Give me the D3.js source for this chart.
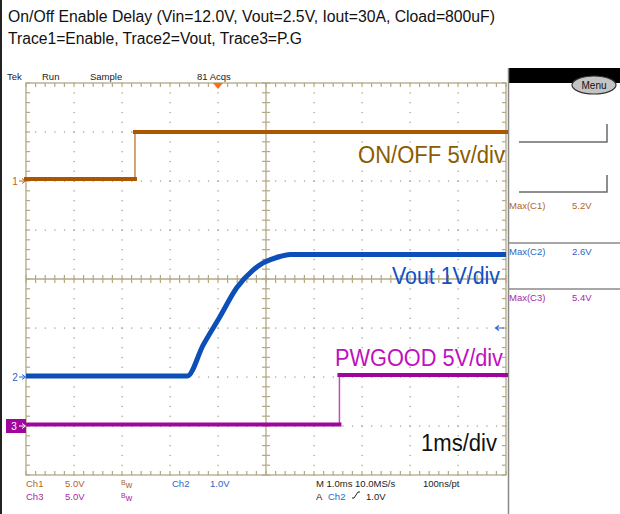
<!DOCTYPE html>
<html><head><meta charset="utf-8">
<script src="https://cdn.jsdelivr.net/npm/d3@7"></script>
<style>html,body{margin:0;padding:0;background:#fff;overflow:hidden}svg{display:block}</style>
</head><body>
<script>
// ---- data (time in ms across the 10-division screen, volts) ----
const ch1Time = [0, 2.27, 2.27, 10];
const ch1Volt = [0.2, 0.2, 5.0, 5.0];
const ch2Time = [0, 3.36, 3.69, 4.04, 4.39, 4.73, 4.94, 5.08, 5.29, 5.5, 10];
const ch2Volt = [0.02, 0.02, 0.65, 1.23, 1.82, 2.18, 2.33, 2.39, 2.46, 2.5, 2.5];
const ch3Time = [0, 6.53, 6.53, 10];
const ch3Volt = [0.15, 0.15, 5.2, 5.2];
const voltsPerDiv = [5, 1, 5];
const offsetDiv = [2, -2, -3];
const traceLabels = ["ON/OFF 5v/div", "Vout 1V/div", "PWGOOD 5V/div"];
const timebaseLabel = "1ms/div";
const titleLines = ["On/Off Enable Delay (Vin=12.0V, Vout=2.5V, Iout=30A, Cload=800uF)",
                    "Trace1=Enable, Trace2=Vout, Trace3=P.G"];
const statusItems = ["Tek", "Run", "Sample", "81 Acqs"];
const measNames = ["Max(C1)", "Max(C2)", "Max(C3)"];
const measValues = ["5.2V", "2.6V", "5.4V"];
const triggerTimeMs = 4.0;
const triggerLevelV = 1.0;

const W = 620, H = 514;
const svg = d3.select("body").append("svg").attr("width", W).attr("height", H);
const x = d3.scaleLinear().domain([0, 10]).range([26, 506]);
const yDiv = d3.scaleLinear().domain([-4, 4]).range([475, 83]);
const chY = (c, v) => yDiv(v / voltsPerDiv[c] + offsetDiv[c]);
const traceCol = ["#ac5602", "#0d4fb8", "#a0069e"];
const labelCol = ["#8a5c00", "#1050c8", "#c010c0"];
const txtCol = ["#b0661e", "#2a66c8", "#a828a8"];
const gridCol = "#b3a886";
const F = "'Liberation Sans', Arial, sans-serif";

// left frame line
svg.append("rect").attr("x", 0).attr("y", 0).attr("width", 2).attr("height", H).attr("fill", "#222");

// title
titleLines.forEach((t, i) => {
  svg.append("text").attr("x", 8).attr("y", 22 + i * 22).attr("font-family", F)
    .attr("font-size", 16).attr("fill", "#111").attr("textLength", i === 0 ? 487 : 294)
    .attr("lengthAdjust", "spacingAndGlyphs").text(t);
});

// status bar
const statusX = [7, 42, 90, 197];
statusItems.forEach((s, i) => svg.append("text").attr("x", statusX[i]).attr("y", 80)
  .attr("font-family", F).attr("font-size", 9.5).attr("fill", "#222").text(s));

// right panel
svg.append("rect").attr("x", 508).attr("y", 68).attr("width", 112).attr("height", 15).attr("fill", "#000");
svg.append("line").attr("x1", 508.5).attr("x2", 508.5).attr("y1", 68).attr("y2", H).attr("stroke", "#888").attr("stroke-width", 1.5);
svg.append("ellipse").attr("cx", 594).attr("cy", 85).attr("rx", 22).attr("ry", 9)
  .attr("fill", "#c4c4c4").attr("stroke", "#333").attr("stroke-width", 1.2);
svg.append("text").attr("x", 594).attr("y", 89).attr("text-anchor", "middle").attr("font-family", F)
  .attr("font-size", 10).attr("fill", "#111").text("Menu");
[[142, 124], [192, 175]].forEach(([yb, yt]) => svg.append("path")
  .attr("d", `M519,${yb}H607V${yt}`).attr("fill", "none").attr("stroke", "#6a6a6a").attr("stroke-width", 1.5));
[243, 289].forEach(yy => svg.append("line").attr("x1", 509).attr("x2", 620).attr("y1", yy).attr("y2", yy)
  .attr("stroke", "#8a8a8a").attr("stroke-width", 1.5));
const measY = [209, 255, 301];
measNames.forEach((m, i) => {
  svg.append("text").attr("x", 509).attr("y", measY[i]).attr("font-family", F).attr("font-size", 9.5)
    .attr("fill", txtCol[i]).text(m);
  svg.append("text").attr("x", 572).attr("y", measY[i]).attr("font-family", F).attr("font-size", 9.5)
    .attr("fill", txtCol[i]).text(measValues[i]);
});

// graticule
const g = svg.append("g");
const X0 = 26, X1 = 506, Y0 = 83, Y1 = 475;
const xMinor = d3.range(0, 50.001, 1).map(k => x(k / 5));
const yMinor = d3.range(0, 40.001, 1).map(k => yDiv(-4 + k / 5));
for (let i = 1; i < 10; i++) if (i !== 5) yMinor.forEach(yy => g.append("rect")
  .attr("x", x(i) - 0.5).attr("y", yy - 0.5).attr("width", 1.2).attr("height", 1.2).attr("fill", "#9c9682"));
for (let j = -3; j <= 3; j++) if (j !== 0) xMinor.forEach(xx => g.append("rect")
  .attr("x", xx - 0.5).attr("y", yDiv(j) - 0.5).attr("width", 1.2).attr("height", 1.2).attr("fill", "#9c9682"));
g.append("rect").attr("x", X0).attr("y", Y0).attr("width", X1 - X0).attr("height", Y1 - Y0)
  .attr("fill", "none").attr("stroke", gridCol).attr("stroke-width", 1.3);
g.append("line").attr("x1", x(5)).attr("x2", x(5)).attr("y1", Y0).attr("y2", Y1).attr("stroke", gridCol).attr("stroke-width", 1.3);
g.append("line").attr("x1", X0).attr("x2", X1).attr("y1", yDiv(0)).attr("y2", yDiv(0)).attr("stroke", gridCol).attr("stroke-width", 1.3);
const tk = (x1, y1, x2, y2) => g.append("line").attr("x1", x1).attr("y1", y1).attr("x2", x2).attr("y2", y2)
  .attr("stroke", gridCol).attr("stroke-width", 1.2);
xMinor.forEach(xx => { tk(xx, Y0, xx, Y0 + 4); tk(xx, Y1, xx, Y1 - 4); tk(xx, yDiv(0) - 4, xx, yDiv(0) + 4); });
yMinor.forEach(yy => { tk(X0, yy, X0 + 4, yy); tk(X1, yy, X1 - 4, yy); tk(x(5) - 4, yy, x(5) + 4, yy); });

// traces: step channels (thin edges, thick levels)
[[ch1Time, ch1Volt, 0], [ch3Time, ch3Volt, 2]].forEach(([tt, vv, c]) => {
  const pts = tt.map((t, i) => [x(t), chY(c, vv[i])]);
  for (let i = 0; i < pts.length - 1; i++) {
    const vert = tt[i] === tt[i + 1];
    svg.append("line").attr("x1", pts[i][0]).attr("y1", pts[i][1]).attr("x2", pts[i + 1][0]).attr("y2", pts[i + 1][1])
      .attr("stroke", traceCol[c]).attr("stroke-width", vert ? 1.5 : 4)
      .attr("stroke-linecap", vert ? "butt" : "square").attr("opacity", vert ? 0.7 : 1);
  }
});
// Vout ramp as a smooth line
svg.append("path").datum(ch2Time.map((t, i) => [t, ch2Volt[i]]))
  .attr("d", d3.line().x(d => x(d[0])).y(d => chY(1, d[1])).curve(d3.curveMonotoneX))
  .attr("fill", "none").attr("stroke", traceCol[1]).attr("stroke-width", 5)
  .attr("stroke-linejoin", "round").attr("stroke-linecap", "butt");

// ground markers
[0, 1].forEach(c => {
  const gy = chY(c, 0);
  svg.append("text").attr("x", 15).attr("y", gy + 4).attr("text-anchor", "middle").attr("font-family", F)
    .attr("font-size", 10).attr("fill", txtCol[c]).text(String(c + 1));
  svg.append("path").attr("d", `M19,${gy}H25M22,${gy - 2.5}L25.5,${gy}L22,${gy + 2.5}`).attr("fill", "none")
    .attr("stroke", txtCol[c]).attr("stroke-width", 1);
});
{
  const gy = chY(2, 0);
  svg.append("rect").attr("x", 6).attr("y", gy - 7).attr("width", 20).attr("height", 14).attr("fill", "#a0069e");
  svg.append("text").attr("x", 14).attr("y", gy + 4).attr("text-anchor", "middle").attr("font-family", F)
    .attr("font-size", 10).attr("fill", "#fff").text("3");
  svg.append("path").attr("d", `M19,${gy}H25M22,${gy - 2.5}L25.5,${gy}L22,${gy + 2.5}`).attr("fill", "none")
    .attr("stroke", "#fff").attr("stroke-width", 1);
}

// trigger markers
svg.append("path").attr("d", `M${x(triggerTimeMs) - 5},83L${x(triggerTimeMs) + 5},83L${x(triggerTimeMs)},89Z`).attr("fill", "#ff6a1a");
{
  const ty = chY(1, triggerLevelV);
  svg.append("path").attr("d", `M496,${ty}H504M499,${ty - 2.5}L495.5,${ty}L499,${ty + 2.5}`).attr("fill", "none")
    .attr("stroke", "#2a66c8").attr("stroke-width", 1.2);
}

// big labels
const bigL = [[358, 163, 147], [392, 284, 108], [335, 366, 168]];
traceLabels.forEach((t, i) => svg.append("text").attr("x", bigL[i][0]).attr("y", bigL[i][1]).attr("font-family", F)
  .attr("font-size", 23).attr("fill", labelCol[i]).attr("textLength", bigL[i][2]).attr("lengthAdjust", "spacingAndGlyphs").text(t));
svg.append("text").attr("x", 421).attr("y", 451).attr("font-family", F).attr("font-size", 23).attr("fill", "#111")
  .attr("textLength", 76).attr("lengthAdjust", "spacingAndGlyphs").text(timebaseLabel);

// bottom readout
const bt = (xx, yy, s, col) => svg.append("text").attr("x", xx).attr("y", yy).attr("font-family", F)
  .attr("font-size", 9.5).attr("fill", col).text(s);
const bw = (xx, yy, col) => { const t = svg.append("text").attr("x", xx).attr("y", yy).attr("font-family", F).attr("fill", col);
  t.append("tspan").attr("font-size", 7).attr("dy", -2).text("B"); t.append("tspan").attr("font-size", 9).attr("dy", 3).text("w"); };
bt(26, 487, "Ch1", txtCol[0]); bt(65, 487, "5.0V", txtCol[0]); bw(121, 487, txtCol[0]);
bt(172, 487, "Ch2", txtCol[1]); bt(210, 487, "1.0V", txtCol[1]);
bt(26, 500, "Ch3", txtCol[2]); bt(65, 500, "5.0V", txtCol[2]); bw(121, 500, txtCol[2]);
bt(316, 487, "M 1.0ms 10.0MS/s", "#222"); bt(423, 487, "100ns/pt", "#222");
bt(316, 500, "A", "#222"); bt(328, 500, "Ch2", txtCol[1]);
svg.append("path").attr("d", "M352,498H354L358,492H360").attr("fill", "none").attr("stroke", "#222").attr("stroke-width", 1);
bt(366, 500, "1.0V", "#222");
</script>
</body></html>
